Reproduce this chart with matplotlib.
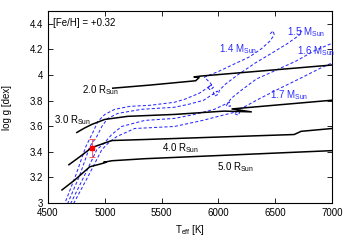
import matplotlib
matplotlib.use("Agg")
import matplotlib.pyplot as plt

plt.rcParams["font.family"] = ["Liberation Sans", "DejaVu Sans"]
plt.rcParams["mathtext.fontset"] = "custom"
plt.rcParams["mathtext.rm"] = "Liberation Sans"
plt.rcParams["mathtext.it"] = "Liberation Sans:italic"
plt.rcParams["font.size"] = 7

# ---- iso-radius lines (Teff [K], log g) ----------------------------------
r20_t = [5070, 5395, 5800, 5830, 5785, 5850, 7000]
r20_g = [3.897, 3.921, 3.955, 3.980, 3.985, 3.992, 4.078]
r30_t = [4754, 4820, 4886, 5000, 5202, 5614, 6050, 6290, 6120, 7000]
r30_g = [3.551, 3.585, 3.614, 3.653, 3.677, 3.692, 3.718, 3.712, 3.735, 3.803]
r40_t = [4684, 4781, 4886, 5061, 5351, 6667, 6728, 7000]
r40_g = [3.299, 3.362, 3.433, 3.488, 3.496, 3.535, 3.560, 3.582]
r50_t = [4623, 4737, 4868, 4975, 5010, 4990, 5061, 5351, 7000]
r50_g = [3.102, 3.181, 3.283, 3.308, 3.318, 3.318, 3.330, 3.346, 3.409]

# ---- evolutionary tracks (ZAMS end first) --------------------------------
m14_t = [6456, 6482, 6491, 6456, 6377, 6272, 6140, 6009, 5877, 5930, 5956,
         5930, 5904, 5939, 5833, 5702, 5614, 5395, 5219, 5088, 5000, 4939,
         4895, 4833, 4746, 4649, 4640]
m14_g = [4.322, 4.345, 4.314, 4.267, 4.204, 4.141, 4.086, 4.031, 3.983, 3.936,
         3.905, 3.881, 3.905, 3.921, 3.858, 3.810, 3.787, 3.763, 3.755, 3.732,
         3.692, 3.637, 3.551, 3.441, 3.220, 3.000, 2.980]
m15_t = [6719, 6737, 6693, 6605, 6474, 6325, 6167, 6061, 6009, 6000, 5965,
         5956, 5991, 5868, 5737, 5614, 5325, 5114, 5026, 4974, 4930, 4868,
         4781, 4675, 4666]
m15_g = [4.354, 4.330, 4.299, 4.244, 4.173, 4.094, 3.999, 3.928, 3.881, 3.850,
         3.834, 3.865, 3.873, 3.802, 3.771, 3.748, 3.732, 3.700, 3.661, 3.598,
         3.520, 3.441, 3.220, 3.000, 2.980]
m16_t = [7030, 6842, 6684, 6491, 6333, 6202, 6114, 6088, 6070, 6105, 6096,
         5965, 5789, 5614, 5351, 5149, 5061, 4991, 4930, 4824, 4702, 4693]
m16_g = [4.259, 4.188, 4.109, 4.031, 3.968, 3.881, 3.818, 3.787, 3.760, 3.755,
         3.787, 3.732, 3.692, 3.661, 3.645, 3.598, 3.535, 3.464, 3.417, 3.220,
         3.000, 2.980]
m17_t = [7030, 6895, 6719, 6544, 6368, 6237, 6175, 6140, 6175, 6193, 6035,
         5860, 5614, 5263, 5105, 5026, 4974, 4860, 4728, 4719]
m17_g = [4.107, 4.052, 3.973, 3.897, 3.818, 3.755, 3.728, 3.700, 3.685, 3.720,
         3.685, 3.645, 3.598, 3.582, 3.519, 3.464, 3.417, 3.220, 3.000, 2.980]

# ---- observed star --------------------------------------------------------
star_t, star_g, star_gerr = 4886, 3.433, 0.07

r_labels = [(4795, 3.885, r"2.0 R$_{\rm Sun}$"), (4550, 3.650, r"3.0 R$_{\rm Sun}$"),
            (5500, 3.430, r"4.0 R$_{\rm Sun}$"), (5990, 3.278, r"5.0 R$_{\rm Sun}$")]
m_labels = [(6009, 4.200, r"1.4 M$_{\rm Sun}$"), (6600, 4.335, r"1.5 M$_{\rm Sun}$"),
            (6690, 4.185, r"1.6 M$_{\rm Sun}$"), (6456, 3.845, r"1.7 M$_{\rm Sun}$")]

fig = plt.figure(figsize=(3.49, 2.45), dpi=100)
ax = fig.add_axes([48 / 349, 42 / 245, 284 / 349, 192 / 245])

blue = "#2a2aff"
for t, g in ((m14_t, m14_g), (m15_t, m15_g), (m16_t, m16_g), (m17_t, m17_g)):
    ax.plot(t, g, color=blue, lw=0.75, ls=(0, (3, 2)))
for t, g in ((r20_t, r20_g), (r30_t, r30_g), (r40_t, r40_g), (r50_t, r50_g)):
    ax.plot(t, g, color="black", lw=1.1)

ax.errorbar([star_t], [star_g], yerr=[star_gerr], fmt="none", ecolor="#ff5a5a",
            elinewidth=0.7, capsize=2.5, capthick=0.7)
ax.plot([star_t], [star_g], "s", color="#ff0000", ms=3.5, mec="#ff0000")

for x, y, s in r_labels:
    ax.text(x, y, s, color="black", ha="left", va="center")
for x, y, s in m_labels:
    ax.text(x, y, s, color=blue, ha="left", va="center")
ax.text(4544, 4.41, "[Fe/H] = +0.32", ha="left", va="center")

ax.set_xlim(4500, 7000)
ax.set_ylim(3, 4.5)
ax.set_xticks([4500, 5000, 5500, 6000, 6500, 7000])
ax.set_yticks([3, 3.2, 3.4, 3.6, 3.8, 4, 4.2, 4.4])
ax.set_yticklabels(["3", "3.2", "3.4", "3.6", "3.8", "4", "4.2", "4.4"])
ax.tick_params(direction="in", top=True, right=True, length=3.5, width=0.6,
               labelsize=7, pad=3.5)
for sp in ax.spines.values():
    sp.set_linewidth(0.8)
ax.set_xlabel(r"T$_{\rm eff}$ [K]")
ax.set_ylabel("log g [dex]")
ax.xaxis.set_label_coords(0.5, -0.105)
ax.yaxis.set_label_coords(-0.125, 0.5)

fig.savefig("out.png", dpi=100)
